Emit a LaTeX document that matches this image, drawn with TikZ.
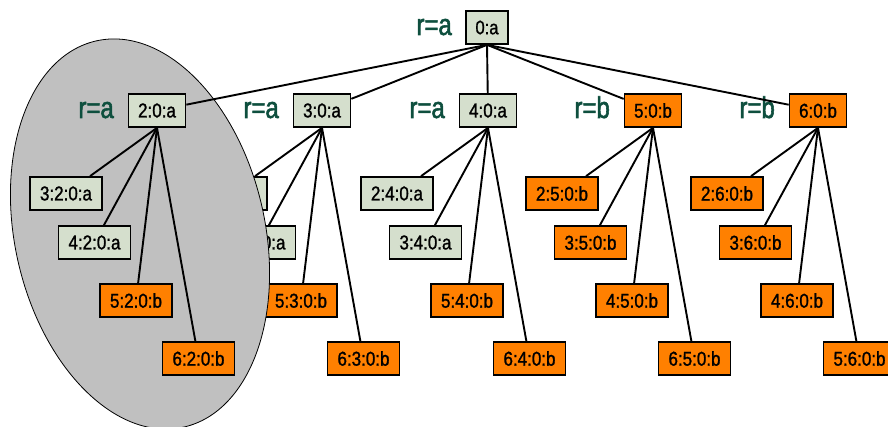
\documentclass[tikz,border=0pt]{standalone}
\usepackage{fontspec}
\newfontfamily\boxfont{Liberation Sans}[FakeStretch=0.85,FakeBold=1.2]
\newfontfamily\tagfont{Liberation Sans}[FakeStretch=0.8,FakeBold=1.8]
\definecolor{sage}{HTML}{D5DFCD}
\definecolor{orng}{HTML}{FF8000}
\definecolor{tagcol}{HTML}{0E4F3E}
\definecolor{blob}{HTML}{C0C0C0}
\begin{document}
\begin{tikzpicture}[x=1pt,y=1pt,
  tn/.style={draw=black, line width=1.7pt, inner sep=0pt, minimum height=33pt,
    font=\boxfont\fontsize{20}{20}\selectfont},
  ga/.style={tn, fill=sage},
  ob/.style={tn, fill=orng},
  rootbox/.style={minimum width=42pt, font=\boxfont\fontsize{19.5}{19.5}\selectfont},
  midbox/.style={minimum width=57pt},
  lowbox/.style={minimum width=72pt},
  tag/.style={text=tagcol, font=\tagfont\fontsize{30}{30}\selectfont,
    anchor=base east, inner sep=0pt},
  edge/.style={line width=1.9pt}
]
\useasboundingbox (0,-427) rectangle (888,0);
\clip (0,-427) rectangle (888,0);

% subtree below 3:0:a (partly hidden by the grey region)
\node[ga, midbox] (n3) at (322,-110.5) {3:0:a};
\node[tag] (t3) at (279,-118) {r=a};
\node[ga, lowbox] (c23) at (231,-193.5) {2:3:0:a};
\node[ga, lowbox] (c43) at (259.5,-242.5) {4:3:0:a};
\node[ob, lowbox] (c53) at (301,-300.5) {5:3:0:b};
\node[ob, lowbox] (c63) at (363.5,-358.5) {6:3:0:b};
\foreach \c in {c23,c43,c53,c63} \draw[edge] (n3.south) -- (\c);

% grey region around the subtree of 2:0:a
\draw[fill=blob, line width=0.8pt, rotate around={12.8:(140,-234)}]
  (140,-234) ellipse [x radius=125, y radius=198];

% root
\node[ga, rootbox] (n0) at (487,-27.5) {0:a};
\node[tag] (t0) at (452,-35) {r=a};

% first level
\node[ga, midbox] (n2) at (157,-110.5) {2:0:a};
\node[ga, midbox] (n4) at (488,-110.5) {4:0:a};
\node[ob, midbox] (n5) at (653,-110.5) {5:0:b};
\node[ob, midbox] (n6) at (818,-110.5) {6:0:b};
\node[tag] (t2) at (114,-118) {r=a};
\node[tag] (t4) at (445,-118) {r=a};
\node[tag] (t5) at (610,-118) {r=b};
\node[tag] (t6) at (775,-118) {r=b};

% second level
\node[ga, lowbox] (c32) at (66,-193.5) {3:2:0:a};
\node[ga, lowbox] (c42) at (94.5,-242.5) {4:2:0:a};
\node[ob, lowbox] (c52) at (136,-300.5) {5:2:0:b};
\node[ob, lowbox] (c62) at (198.5,-358.5) {6:2:0:b};

\node[ga, lowbox] (c24) at (397,-193.5) {2:4:0:a};
\node[ga, lowbox] (c34) at (425.5,-242.5) {3:4:0:a};
\node[ob, lowbox] (c54) at (467,-300.5) {5:4:0:b};
\node[ob, lowbox] (c64) at (529.5,-358.5) {6:4:0:b};

\node[ob, lowbox] (c25) at (562,-193.5) {2:5:0:b};
\node[ob, lowbox] (c35) at (590.5,-242.5) {3:5:0:b};
\node[ob, lowbox] (c45) at (632,-300.5) {4:5:0:b};
\node[ob, lowbox] (c65) at (694.5,-358.5) {6:5:0:b};

\node[ob, lowbox] (c26) at (727,-193.5) {2:6:0:b};
\node[ob, lowbox] (c36) at (755.5,-242.5) {3:6:0:b};
\node[ob, lowbox] (c46) at (797,-300.5) {4:6:0:b};
\node[ob, lowbox] (c56) at (859.5,-358.5) {5:6:0:b};

% connectors
\foreach \c in {n2,n3,n4,n5,n6} \draw[edge] (n0.south) -- (\c);
\foreach \c in {c32,c42,c52,c62} \draw[edge] (n2.south) -- (\c);
\foreach \c in {c24,c34,c54,c64} \draw[edge] (n4.south) -- (\c);
\foreach \c in {c25,c35,c45,c65} \draw[edge] (n5.south) -- (\c);
\foreach \c in {c26,c36,c46,c56} \draw[edge] (n6.south) -- (\c);
\end{tikzpicture}
\end{document}
